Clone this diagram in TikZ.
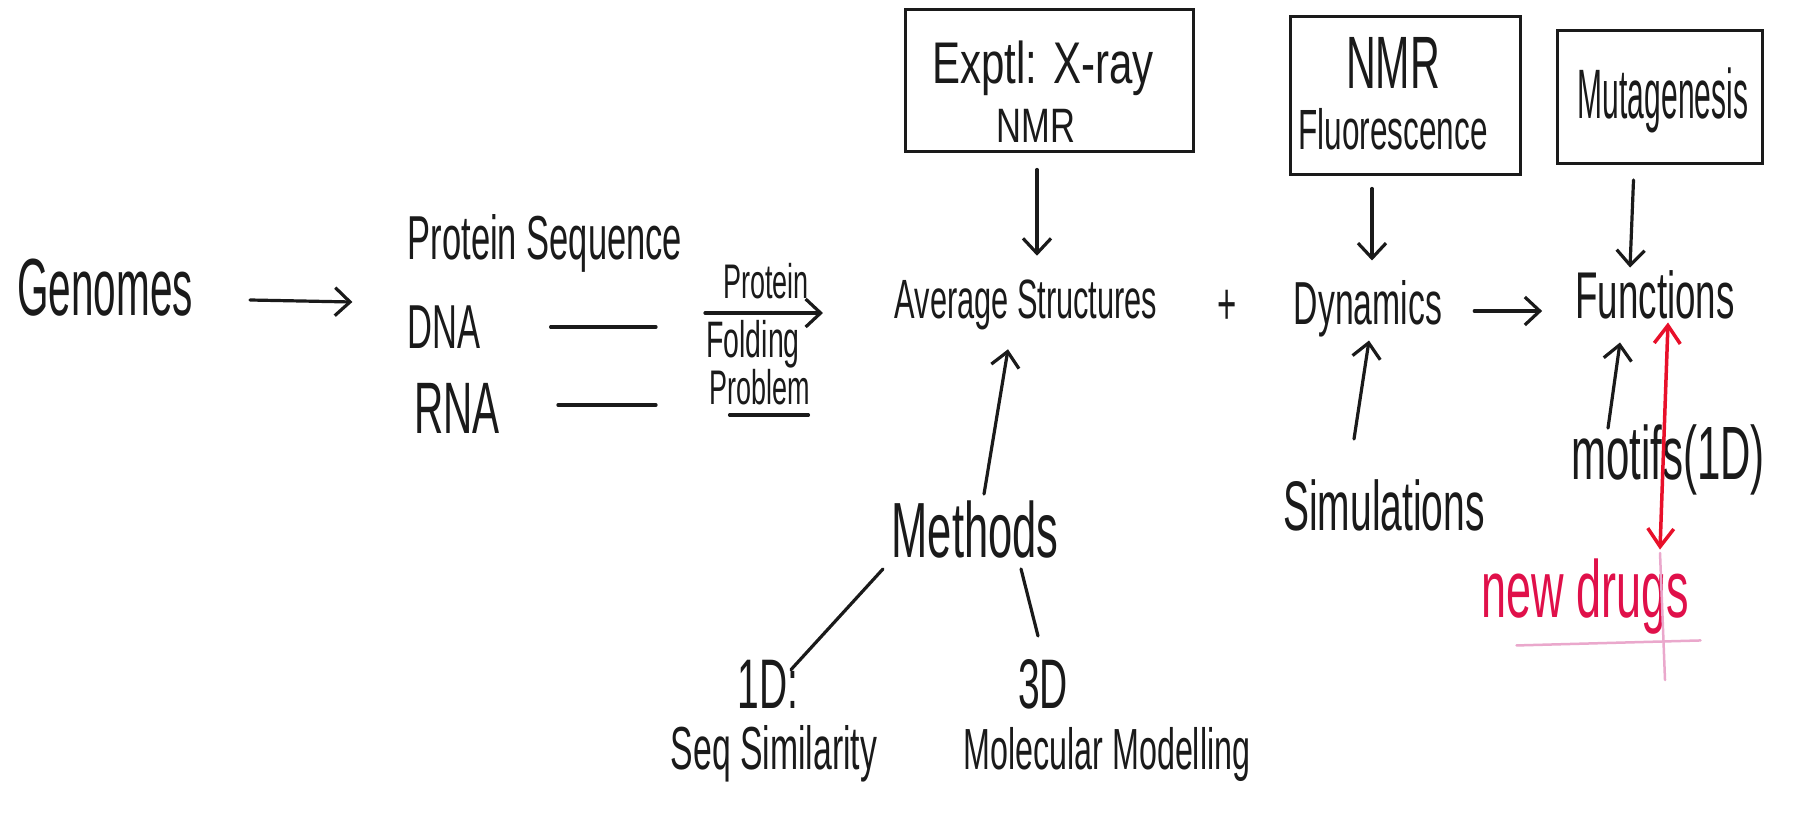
\documentclass[tikz,border=0pt]{standalone}
\usepackage{fontspec}
\setmainfont{Liberation Sans}
\usepackage{graphicx}
\usetikzlibrary{arrows.meta}
\definecolor{ink}{HTML}{1A1A1A}
\definecolor{redink}{HTML}{E8102A}
\definecolor{drugink}{HTML}{E0104A}
\definecolor{pinkink}{HTML}{EAA8CC}
\newcommand{\hwtext}[2][1.35]{\scalebox{0.75}[#1]{#2}}
\tikzset{
 hw/.style={inner sep=0pt, text=ink, font=\fontsize{#1}{#1}\selectfont},
 pen/.style={draw=ink, line width=3.2pt, line cap=round},
 arr/.style={pen, -{Straight Barb[length=15pt,width=28pt]}},
 frame/.style={draw=ink, line width=3pt, inner sep=0pt},
 redarr/.style={draw=redink, line width=3.5pt, line cap=round, {Straight Barb[length=18pt,width=26pt]}-{Straight Barb[length=18pt,width=26pt]}},
}
\begin{document}
\begin{tikzpicture}[x=1pt,y=-1pt]
\path[use as bounding box, fill=white] (0,0) rectangle (1798,826);

% left part
\node[hw=54] (gen) at (105,288) {\hwtext[1.5]{Genomes}};
\node[hw=46] (pseq) at (545,243) {\hwtext{Protein Sequence}};
\node[hw=46] (dna) at (444,327) {\hwtext{DNA}};
\node[hw=54] (rna) at (457,408) {\hwtext{RNA}};
\coordinate (dnaend) at (656,327);
\coordinate (rnaend) at (656,405);
\coordinate (pfstart) at (705,313);
\node[hw=36] (prot) at (766,281) {\hwtext{Protein}};
\node[hw=38] (fold) at (753,344) {\hwtext{Folding}};
\node[hw=36] (probl) at (760,387) {\hwtext{Problem}};

% boxes
\node[frame, minimum width=288pt, minimum height=142pt] (box1) at (1049,81) {};
\node[hw=56] (xray) at (1043,68) {\hwtext[1.05]{Exptl: X-ray}};
\node[hw=46] (nmra) at (1036,126) {\hwtext[1.05]{NMR}};
\node[frame, minimum width=230pt, minimum height=158pt] (box2) at (1405,96) {};
\node[hw=55] (nmrb) at (1393,63) {\hwtext{NMR}};
\node[hw=42] (fluo) at (1393,129) {\hwtext{Fluorescence}};
\node[frame, minimum width=205pt, minimum height=133pt] (box3) at (1659.5,97) {};
\node[hw=40] (muta) at (1663,100) {\hwtext[1.75]{Mutagenesis}};

% main row
\node[hw=41] (avg) at (1026,305) {\hwtext{Average Structures}};
\node[hw=44] (plus) at (1227,307) {\hwtext{+}};
\node[hw=45] (dyn) at (1368,309) {\hwtext{Dynamics}};
\node[hw=49] (fun) at (1655,295) {\hwtext{Functions}};

% lower part
\node[hw=58] (meth) at (975,530) {\hwtext{Methods}};
\node[hw=52] (oned) at (768,684) {\hwtext{1D:}};
\node[hw=45] (seq) at (774,754) {\hwtext{Seq Similarity}};
\node[hw=52] (threed) at (1043,684) {\hwtext{3D}};
\node[hw=43] (mol) at (1107,754) {\hwtext{Molecular Modelling}};
\node[hw=52] (sim) at (1384,505) {\hwtext{Simulations}};
\node[hw=56] (motif) at (1668,460) {\hwtext{motifs(1D)}};
\node[hw=60, text=drugink] (drugs) at (1585,597) {\hwtext{new drugs}};

% connectors
\draw[arr] ([xshift=57pt,yshift=-12pt]gen.east) -- ([xshift=-55pt,yshift=25pt]dna.west);
\draw[pen] ([xshift=70pt]dna.east) -- (dnaend);
\draw[pen] ([xshift=58pt,yshift=3pt]rna.east) -- (rnaend);
\draw[arr] (pfstart) -- ([xshift=-71.5pt,yshift=-8pt]avg.west);
\draw[pen] ([xshift=20pt,yshift=-10pt]probl.south west) -- ([xshift=-2pt,yshift=-10pt]probl.south east);

\draw[arr] ([xshift=-12pt,yshift=-16pt]box1.south) -- ([xshift=11pt,yshift=24pt]avg.north);
\draw[arr] ([xshift=-33pt,yshift=-12pt]box2.south) -- ([xshift=4pt,yshift=20pt]dyn.north);
\draw[arr] ([xshift=-26pt,yshift=-15pt]box3.south) -- ([xshift=-25pt,yshift=3pt]fun.north);
\draw[arr] ([xshift=32pt,yshift=-2pt]dyn.east) -- ([xshift=-33pt,yshift=-16pt]fun.west);

\draw[arr] ([xshift=9pt,yshift=7pt]meth.north) -- ([xshift=-18pt,yshift=-19pt]avg.south);
\draw[pen] ([xshift=-92pt,yshift=-10pt]meth.south) -- ([xshift=23pt,yshift=-10pt]oned.north);
\draw[pen] ([xshift=46pt,yshift=-10pt]meth.south) -- ([xshift=-5pt,yshift=23pt]threed.north);
\draw[arr] ([xshift=-30pt,yshift=40pt]sim.north) -- ([xshift=1pt,yshift=-3pt]dyn.south);
\draw[arr] ([xshift=-60pt,yshift=-3.5pt]motif.north) -- ([xshift=-35pt,yshift=-23pt]fun.south);

\draw[redarr] ([xshift=13pt,yshift=-3pt]fun.south) -- ([xshift=75pt,yshift=9.5pt]drugs.north);
\coordinate (pinktop) at (1660,553);
\coordinate (pinkbot) at (1665,680);
\draw[draw=pinkink, line width=2.5pt, line cap=round] (pinktop) -- (pinkbot);
\draw[draw=pinkink, line width=2.5pt, line cap=round] ([xshift=35.5pt,yshift=-10.5pt]drugs.south west) -- ([xshift=11.5pt,yshift=-5.5pt]drugs.south east);
\end{tikzpicture}
\end{document}
